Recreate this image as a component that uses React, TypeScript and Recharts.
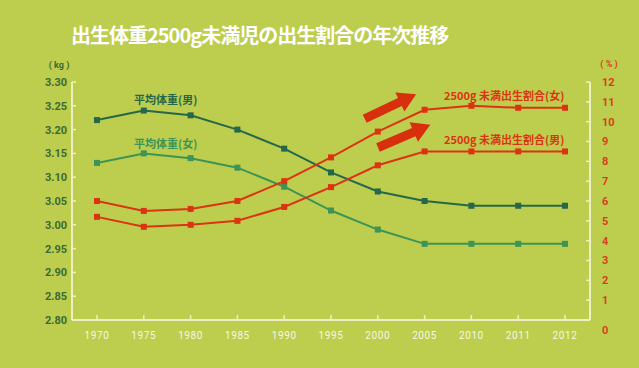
import { LineChart, Line, XAxis, YAxis } from 'recharts'

const years = ['1970', '1975', '1980', '1985', '1990', '1995', '2000', '2005', '2010', '2011', '2012']
const weightMale = [3.22, 3.24, 3.23, 3.2, 3.16, 3.11, 3.07, 3.05, 3.04, 3.04, 3.04]
const weightFemale = [3.13, 3.15, 3.14, 3.12, 3.08, 3.03, 2.99, 2.96, 2.96, 2.96, 2.96]
const lowFemale = [6.0, 5.5, 5.6, 6.0, 7.0, 8.2, 9.5, 10.6, 10.8, 10.7, 10.7]
const lowMale = [5.2, 4.7, 4.8, 5.0, 5.7, 6.7, 7.8, 8.5, 8.5, 8.5, 8.5]
const kgTicks = [2.8, 2.85, 2.9, 2.95, 3.0, 3.05, 3.1, 3.15, 3.2, 3.25, 3.3]
const pctTicks = [0, 1, 2, 3, 4, 5, 6, 7, 8, 9, 10, 11, 12]

const data = years.map((y, i) => ({
  year: y,
  wm: weightMale[i],
  wf: weightFemale[i],
  lf: lowFemale[i],
  lm: lowMale[i],
}))

const BG = '#bdcd4e'
const AXIS = '#eef0c4'
const DARK = '#24674a'
const GREEN = '#3c9455'
const RED = '#dc3412'
const LABEL_GREEN = '#3a6b35'
const FONT = 'Roboto, "Noto Sans CJK JP", sans-serif'
const JP = '"Noto Sans CJK JP", sans-serif'

const squareDot = (color: string) => (props: any) => {
  const { cx, cy, index } = props
  if (cx == null || cy == null) return <g key={index} />
  return <rect key={index} x={cx - 3} y={cy - 3} width={6} height={6} fill={color} />
}

const PctTick = (props: any) => {
  const { x, y, payload } = props
  const dy = payload.value === 0 ? 10 : 0
  return (
    <text x={x} y={y + dy} dy="0.35em" textAnchor="start" fill="#d8401a"
      fontSize={11} fontWeight={700} fontFamily={FONT}>
      {payload.value}
    </text>
  )
}

// decorative arrow, drawn pointing right then rotated
const Arrow = ({ x, y, angle }: { x: number; y: number; angle: number }) => (
  <polygon
    transform={`translate(${x},${y}) rotate(${angle})`}
    points="0,-4.5 39,-4.5 39,-10.5 57,0 39,10.5 39,4.5 0,4.5"
    fill="#d8300e"
  />
)

const axisLine = { stroke: AXIS, strokeWidth: 2 }
const tickLine = { stroke: AXIS, strokeWidth: 1.5 }

export default function App() {
  return (
    <div style={{ position: 'absolute', left: 0, top: 0, width: 639, height: 368, background: BG, overflow: 'hidden' }}>
      <LineChart width={639} height={368} data={data}
        margin={{ top: 82, right: 19, bottom: 18, left: 22 }}>
        <XAxis dataKey="year" height={30} padding={{ left: 25, right: 25 }}
          axisLine={axisLine} tickLine={tickLine} tickSize={-5} tickMargin={17}
          tick={{ fill: '#f6f8e4', fontSize: 10, fontFamily: FONT, letterSpacing: 0.6 }} />
        <YAxis yAxisId="kg" orientation="left" width={50} domain={[2.8, 3.3]} ticks={kgTicks}
          axisLine={axisLine} tickLine={tickLine} tickSize={-4} tickMargin={9} interval={0}
          tickFormatter={(v: number) => v.toFixed(2)}
          tick={{ fill: LABEL_GREEN, fontSize: 11, fontWeight: 700, fontFamily: FONT }} />
        <YAxis yAxisId="pct" orientation="right" width={30} domain={[0, 12]} ticks={pctTicks}
          axisLine={axisLine} tickLine={tickLine} tickSize={-4} tickMargin={16} interval={0}
          tick={<PctTick />} />
        <Line yAxisId="kg" dataKey="wm" stroke={DARK} strokeWidth={2} dot={squareDot(DARK)} isAnimationActive={false} />
        <Line yAxisId="kg" dataKey="wf" stroke={GREEN} strokeWidth={2} dot={squareDot(GREEN)} isAnimationActive={false} />
        <Line yAxisId="pct" dataKey="lf" stroke={RED} strokeWidth={2} dot={squareDot(RED)} isAnimationActive={false} />
        <Line yAxisId="pct" dataKey="lm" stroke={RED} strokeWidth={2} dot={squareDot(RED)} isAnimationActive={false} />
      </LineChart>
      <svg width={639} height={368} style={{ position: 'absolute', left: 0, top: 0, pointerEvents: 'none' }}>
        <text x={71} y={34} dominantBaseline="central" fill="#ffffff" fontSize={20} letterSpacing={-1} fontWeight={700} fontFamily={JP}>
          出生体重2500g未満児の出生割合の年次推移
        </text>
        <text x={59} y={65} textAnchor="middle" dominantBaseline="central" fill={LABEL_GREEN} fontSize={9} fontWeight={700} fontFamily={FONT}>( kg )</text>
        <text x={609} y={64} textAnchor="middle" dominantBaseline="central" fill="#d8401a" fontSize={9} fontWeight={700} fontFamily={FONT}>( % )</text>
        <text x={134} y={99} dominantBaseline="central" fill={DARK} fontSize={11} fontWeight={700} fontFamily={JP}>平均体重(男)</text>
        <text x={134} y={143} dominantBaseline="central" fill={GREEN} fontSize={11} fontWeight={700} fontFamily={JP}>平均体重(女)</text>
        <text x={444} y={95} dominantBaseline="central" fill={RED} fontSize={11} fontWeight={700} fontFamily={JP}>2500g 未満出生割合(女)</text>
        <text x={444} y={139} dominantBaseline="central" fill={RED} fontSize={11} fontWeight={700} fontFamily={JP}>2500g 未満出生割合(男)</text>
        <Arrow x={364.7} y={118.8} angle={-25.5} />
        <Arrow x={378} y={147.5} angle={-23.4} />
      </svg>
    </div>
  )
}
